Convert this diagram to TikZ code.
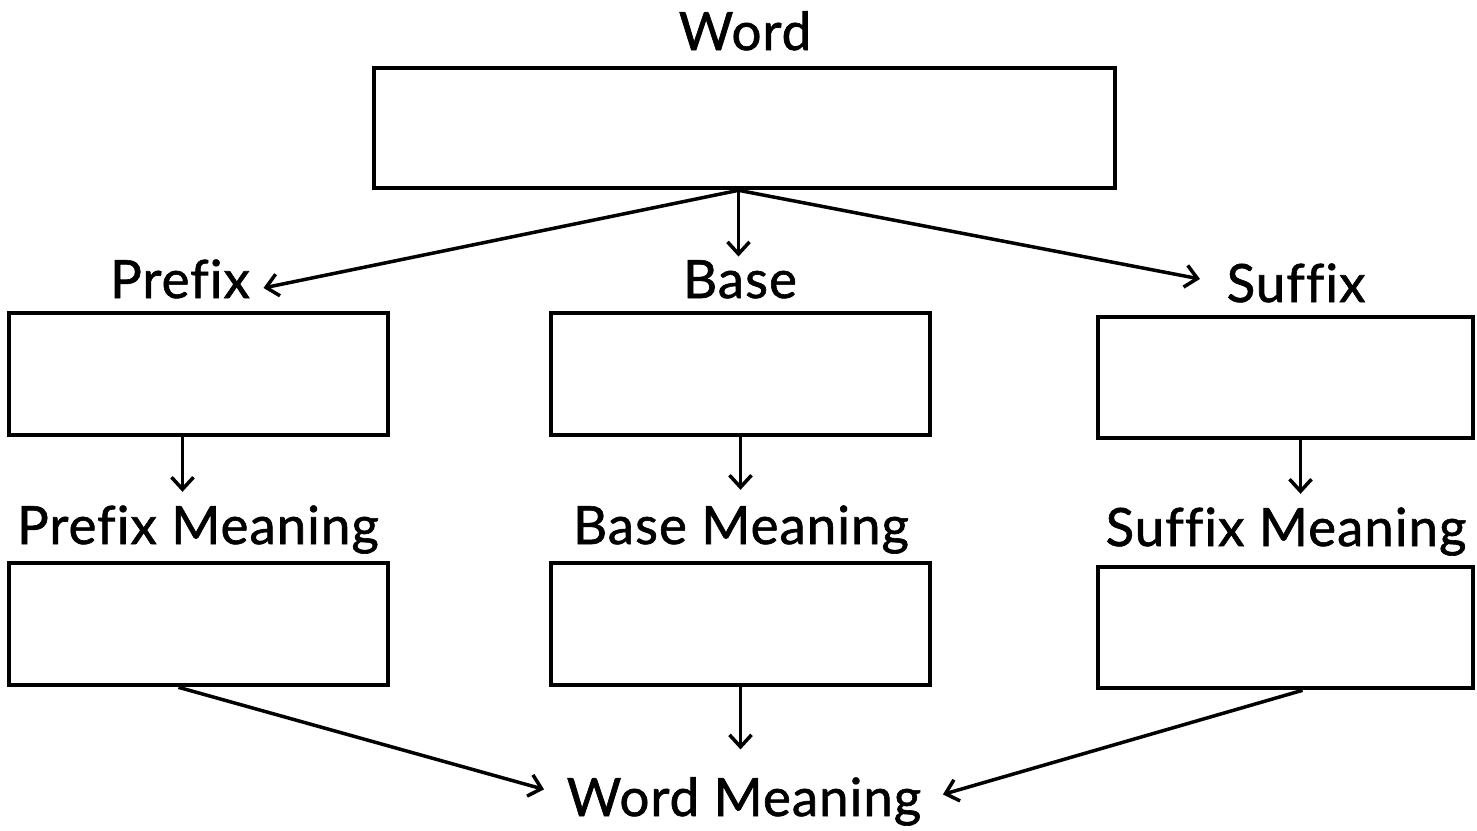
\documentclass[tikz,border=0pt]{standalone}
\usepackage{fontspec}
\setmainfont{Lato}[Ligatures=NoCommon]
\newfontfamily\lblfont{Lato}[Ligatures=NoCommon,FakeBold=1.2,LetterSpace=2]
\usetikzlibrary{arrows.meta,calc}

\begin{document}
\begin{tikzpicture}[x=0.01cm,y=-0.01cm,
    box/.style={draw,line width=0.045cm,minimum width=3.79cm,minimum height=1.22cm,inner sep=0pt},
    lbl/.style={anchor=base,inner sep=0.03cm,font=\lblfont\fontsize{15}{18}\selectfont},
    arr/.style={line width=0.035cm,-{Straight Barb[length=0.12cm,width=0.22cm]}}]
    \useasboundingbox (0,0) rectangle (1477,830);

    % boxes
    \node[box,minimum width=7.41cm,minimum height=1.2cm] (word) at (744.5,128) {};
    \node[box] (prefix) at (198.5,374) {};
    \node[box] (base) at (740.5,374) {};
    \node[box,minimum width=3.75cm,minimum height=1.21cm] (suffix) at (1285.5,377.5) {};
    \node[box] (prefixm) at (198.5,624) {};
    \node[box] (basem) at (740.5,624) {};
    \node[box,minimum width=3.75cm,minimum height=1.21cm] (suffixm) at (1285.5,627.5) {};

    % labels
    \node[lbl] (wordlbl) at (745,50) {Word};
    \node[lbl] (prefixlbl) at (180,298) {Prefix};
    \node[lbl] (baselbl) at (740,298) {Base};
    \node[lbl] (suffixlbl) at (1296,302) {Suffix};
    \node[lbl] (prefixmlbl) at (198,544) {Prefix Meaning};
    \node[lbl] (basemlbl) at (741,544) {Base Meaning};
    \node[lbl] (suffixmlbl) at (1286,546) {Suffix Meaning};
    \node[lbl] (wordmlbl) at (744,816) {Word Meaning};

    % arrows
    \coordinate (split) at ($(word.south)+(-6,0)$);
    \draw[arr] (split) -- ($(prefixlbl.east)+(10,9)$);
    \draw[arr] (split) -- (split |- baselbl.north);
    \draw[arr] (split) -- ($(suffixlbl.west)+(-23,-4)$);

    \coordinate (pa) at ($(prefix.south)+(-16,0)$);
    \coordinate (ba) at (base.south);
    \coordinate (sa) at ($(suffix.south)+(15,0)$);
    \draw[arr,shorten >=0.1cm] (pa) -- (pa |- prefixmlbl.north);
    \draw[arr,shorten >=0.12cm] (ba) -- (ba |- basemlbl.north);
    \draw[arr,shorten >=0.1cm] (sa) -- (sa |- suffixmlbl.north);

    \draw[arr] ($(prefixm.south)+(-20,0)$) -- ($(wordmlbl.west)+(-19,-12)$);
    \draw[arr,shorten >=0.24cm] (basem.south) -- (basem.south |- wordmlbl.north);
    \draw[arr] ($(suffixm.south)+(17,0)$) -- ($(wordmlbl.east)+(18,-7)$);
\end{tikzpicture}
\end{document}
